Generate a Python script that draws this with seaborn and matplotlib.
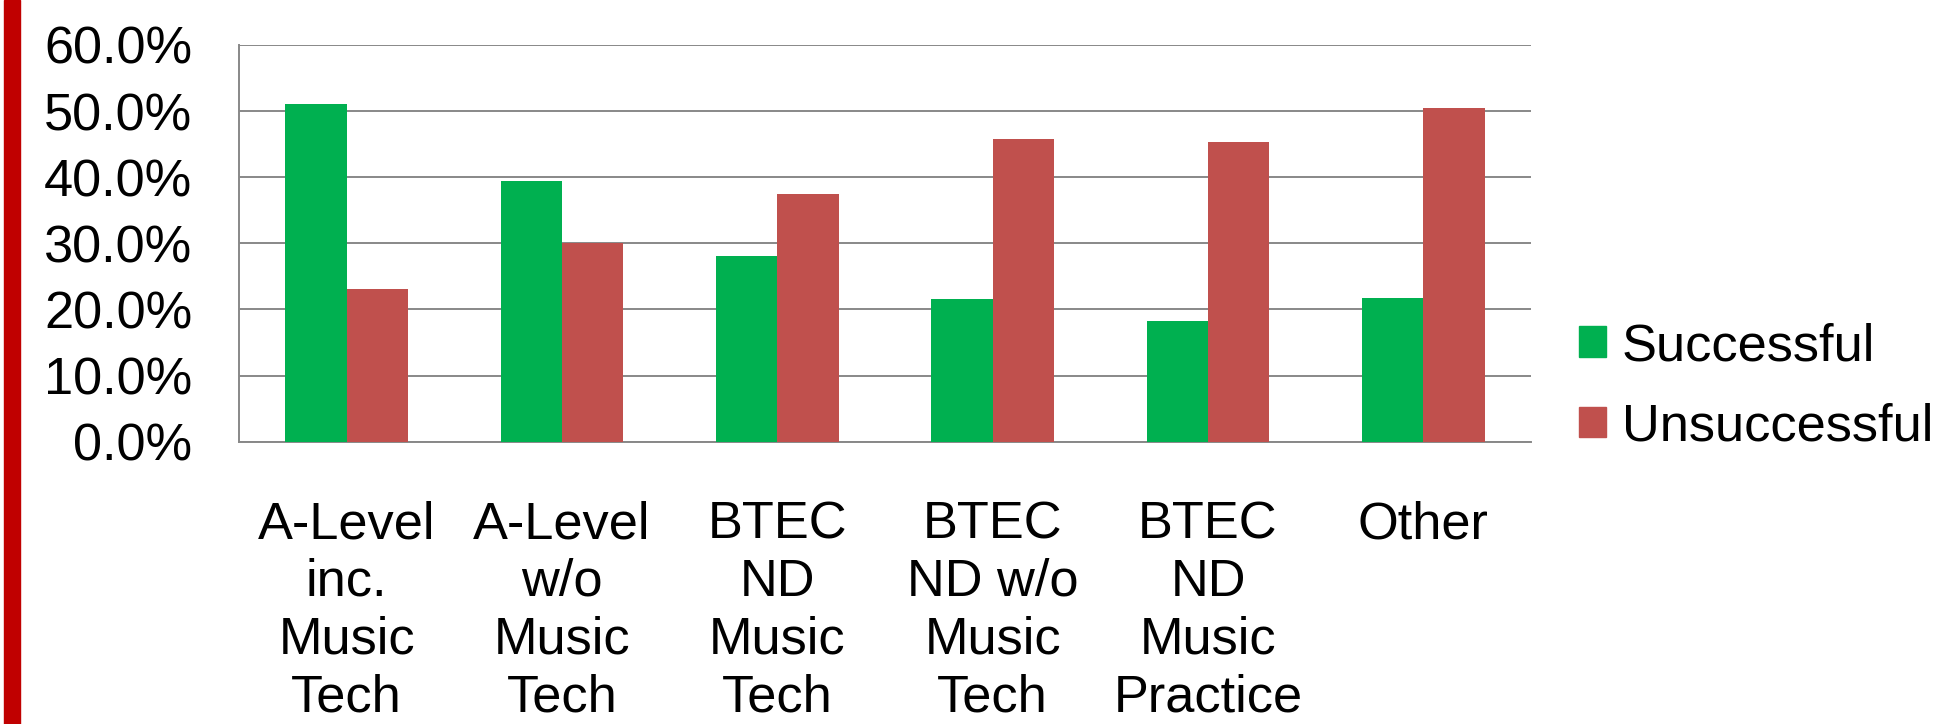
import matplotlib.pyplot as plt
import matplotlib.patches as mpatches
from matplotlib.ticker import FuncFormatter
import numpy as np
import pandas as pd
import seaborn as sns

# data (percent)
categories = ['A-Level\ninc.\nMusic\nTech', 'A-Level\nw/o\nMusic\nTech', 'BTEC\nND\nMusic\nTech',
              'BTEC\nND w/o\nMusic\nTech', 'BTEC\nND\nMusic\nPractice', 'Other']
successful = [51.1, 39.5, 28.1, 21.6, 18.2, 21.8]
unsuccessful = [23.1, 30.0, 37.4, 45.8, 45.4, 50.4]
series = ['Successful', 'Unsuccessful']
colors = ['#00B050', '#C0504D']
grid_col = '#888888'
fs = 37.7

df = pd.DataFrame({'cat': categories * 2,
                   'val': successful + unsuccessful,
                   'series': [series[0]] * 6 + [series[1]] * 6})

sns.set_style('white')
plt.rcParams['font.family'] = ['Liberation Sans', 'DejaVu Sans']
plt.rcParams['text.color'] = 'black'
plt.rcParams['xtick.labelcolor'] = 'black'
plt.rcParams['ytick.labelcolor'] = 'black'

fig = plt.figure(figsize=(19.42, 7.24), dpi=100)
ax = fig.add_axes([239 / 1942, 282.3 / 724, 1292 / 1942, 396.7 / 724])

sns.barplot(data=df, x='cat', y='val', hue='series', palette=colors, width=0.57,
            dodge=True, gap=0, legend=False, ax=ax, zorder=3, saturation=1,
            edgecolor='none')

ax.set_ylim(0, 60)
ax.set_xlim(-0.5, 5.5)
ax.set_yticks(np.arange(0, 61, 10))
ax.yaxis.set_major_formatter(FuncFormatter(lambda v, p: '%.1f%%' % v))
ax.set_xlabel('')
ax.set_ylabel('')
ax.yaxis.grid(True, color=grid_col, lw=1.4, zorder=0)
ax.set_axisbelow(True)

for s in ['top', 'right']:
    ax.spines[s].set_visible(False)
for s in ['left', 'bottom']:
    ax.spines[s].set_color(grid_col)
    ax.spines[s].set_linewidth(1.4)

ax.tick_params(axis='y', length=11.5, width=1.4, color=grid_col, labelsize=fs, pad=22, direction='out')
ax.tick_params(axis='x', which='major', length=0, labelsize=fs, pad=42)
ax.set_xticks(np.arange(-0.5, 6, 1), minor=True)
ax.tick_params(axis='x', which='minor', length=11, width=1.4, color=grid_col, direction='out')
for t in ax.get_xticklabels():
    t.set_linespacing(1.23)

handles = [mpatches.Patch(color=c, label=l) for c, l in zip(colors, series)]
fig.legend(handles=handles, loc='center left', bbox_to_anchor=(1579 / 1942, 337 / 724),
           frameon=False, fontsize=fs, handlelength=0.52, handleheight=0.52,
           handletextpad=0.3, labelspacing=0.6, borderpad=0, borderaxespad=0)

# red stripe on the left edge
fig.patches.append(mpatches.Rectangle((4 / 1942, 0), 16 / 1942, 1, transform=fig.transFigure,
                                      color='#C00000', zorder=5))

fig.savefig('out.png', dpi=100)
